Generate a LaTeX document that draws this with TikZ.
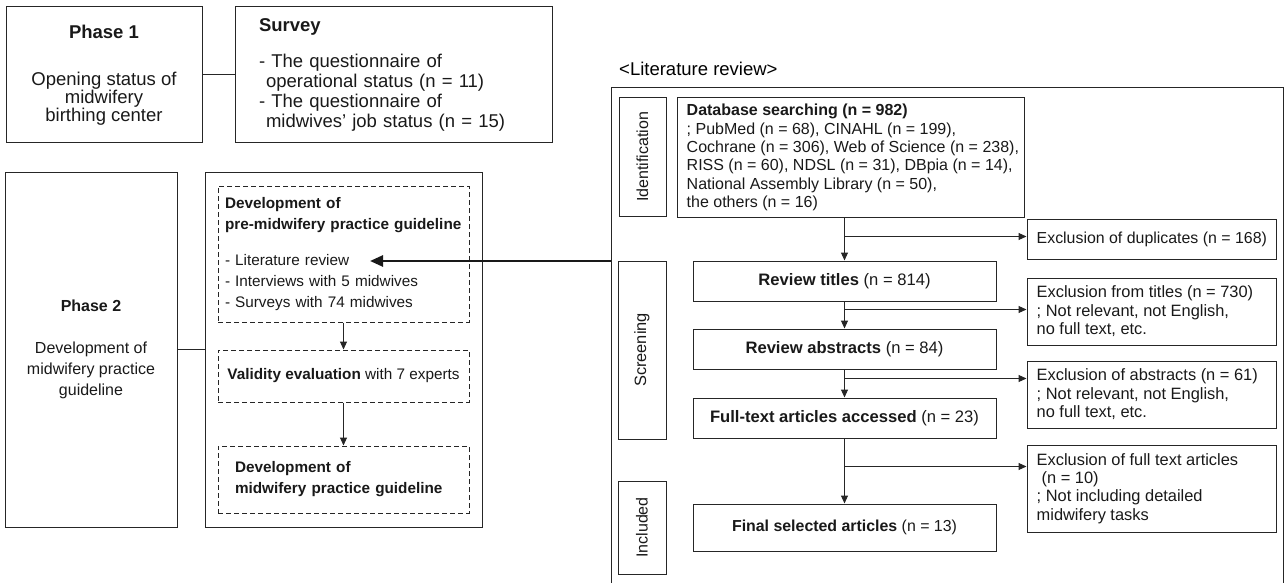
\documentclass[tikz,border=0pt]{standalone}
\usepackage{fontspec}
\setmainfont{Liberation Sans}
\usepackage{tikz}
\usetikzlibrary{arrows.meta,calc,positioning}

\tikzset{
  box/.style={draw=black!85, line width=1pt, inner sep=0pt, text=black!90},
  dbox/.style={box, dash pattern=on 5pt off 3pt},
  conn/.style={draw=black!85, line width=1pt},
  txt/.style={inner sep=0pt, align=left, text=black!90},
  big/.style={font=\fontsize{18.5}{20}\selectfont},
  mid/.style={font=\fontsize{15.3}{21}\selectfont},
  lit/.style={font=\fontsize{16.4}{18.4}\selectfont},
  stage/.style={font=\fontsize{16.6}{18.4}\selectfont},
}

\begin{document}
\begin{tikzpicture}[x=1pt, y=-1pt, >={Triangle[length=8pt,width=7pt]}]
    \useasboundingbox (0,0) rectangle (1285,583);

    % phase 1
    \node[box, align=center, font=\fontsize{18.5}{18}\selectfont, minimum width=196pt, minimum height=136pt] (pone) at (104,75)
        {\textbf{Phase 1}\\[29pt]Opening status of\\midwifery\\birthing center};
    \node[box, big, align=left, text width=269pt, inner xsep=24pt, minimum height=136pt] (survey) at (393.5,75)
        {\textbf{Survey}\\[16pt]- The questionnaire of\\\hspace*{7pt}operational status (n = 11)\\- The questionnaire of\\\hspace*{7pt}midwives’ job status (n = 15)};
    \draw[conn] (pone) -- (survey);

    % phase 2
    \node[box, align=center, font=\fontsize{16}{21}\selectfont, minimum width=172pt, minimum height=355pt] (ptwo) at (91,349.5)
        {\textbf{Phase 2}\\[21pt]Development of\\midwifery practice\\guideline};
    \node[box, minimum width=277pt, minimum height=355pt] (devbox) at (343.5,349.5) {};
    \draw[conn] (ptwo) -- (devbox);

    \node[dbox, mid, align=left, text width=237pt, inner xsep=7pt, minimum height=136pt] (predev) at (343.5,254)
        {\textbf{Development of}\\\textbf{pre-midwifery practice guideline}\\[15pt]- Literature review\\- Interviews with 5 midwives\\- Surveys with 74 midwives};
    \node[dbox, mid, minimum width=251pt, minimum height=52pt] (valid) at (343.5,376)
        {\textbf{Validity evaluation} with 7 experts};
    \node[dbox, mid, align=left, text width=217pt, inner xsep=17pt, minimum height=67pt] (guide) at (343.5,479.5)
        {\textbf{Development of}\\\textbf{midwifery practice guideline}};
    \draw[conn, ->] (predev) -- (valid);
    \draw[conn, ->] (valid) -- (guide);

    % literature review
    \node[big, anchor=base west, inner sep=0pt] (littitle) at (619,76) {\textless Literature review\textgreater};
    \node[box, minimum width=672pt, minimum height=497pt] (litbox) at (947,336.5) {};

    \node[box, font=\fontsize{16}{18}\selectfont, rotate=90, minimum width=118pt, minimum height=47pt] (ident) at (642.5,157) {Identification};
    \node[box, font=\fontsize{16.4}{18}\selectfont, rotate=90, minimum width=178pt, minimum height=48pt] (screen) at (642,350) {Screening};
    \node[box, font=\fontsize{16}{18}\selectfont, rotate=90, minimum width=93pt, minimum height=48pt] (incl) at (642,527.5) {Included};

    \node[box, minimum width=347pt, minimum height=119pt] (dbase) at (850.5,157.5) {};
    \node[txt, font=\fontsize{16}{18.4}\selectfont, right=10pt of dbase.west] (dbtext)
        {\textbf{Database searching (n = 982)}\\; PubMed (n = 68), CINAHL (n = 199),\\Cochrane (n = 306), Web of Science (n = 238),\\RISS (n = 60), NDSL (n = 31), DBpia (n = 14),\\National Assembly Library (n = 50),\\the others (n = 16)};

    \node[box, stage, minimum width=303pt, minimum height=40pt] (titles) at (844.5,281) {\textbf{Review titles} (n = 814)};
    \node[box, stage, minimum width=303pt, minimum height=40pt] (abstr) at (844.5,349) {\textbf{Review abstracts} (n = 84)};
    \node[box, stage, minimum width=303pt, minimum height=40pt] (fulltext) at (844.5,418) {\textbf{Full-text articles accessed} (n = 23)};
    \node[box, font=\fontsize{15.9}{18}\selectfont, minimum width=303pt, minimum height=47pt] (final) at (844.5,527.5) {\textbf{Final selected articles} (n = 13)};

    \node[box, minimum width=249pt, minimum height=40pt] (dup) at (1151.5,239) {};
    \node[txt, font=\fontsize{15.9}{18.4}\selectfont, right=10pt of dup.west] (duptext) {Exclusion of duplicates (n = 168)};
    \node[box, minimum width=249pt, minimum height=67pt] (extitles) at (1151.5,311.5) {};
    \node[txt, lit, right=10pt of extitles.west] (extitlestext)
        {Exclusion from titles (n = 730)\\; Not relevant, not English,\\no full text, etc.};
    \node[box, minimum width=249pt, minimum height=67pt] (exabs) at (1151.5,394.5) {};
    \node[txt, lit, right=10pt of exabs.west] (exabstext)
        {Exclusion of abstracts (n = 61)\\; Not relevant, not English,\\no full text, etc.};
    \node[box, minimum width=249pt, minimum height=87pt] (exfull) at (1151.5,488.5) {};
    \node[txt, lit, right=10pt of exfull.west] (exfulltext)
        {Exclusion of full text articles\\\hspace*{5pt}(n = 10)\\; Not including detailed\\midwifery tasks};

    \coordinate (bone) at ($(titles.north |- dbase.south)+(0,19)$);
    \coordinate (btwo) at ($(titles.south)+(0,8)$);
    \coordinate (bthree) at ($(abstr.south)+(0,9)$);
    \coordinate (bfour) at ($(fulltext.south)+(0,28)$);

    \draw[conn, ->] (titles.north |- dbase.south) -- (titles.north);
    \draw[conn, ->] (bone) -- (bone -| dup.west);
    \draw[conn, ->] (titles) -- (abstr);
    \draw[conn, ->] (btwo) -- (btwo -| extitles.west);
    \draw[conn, ->] (abstr) -- (fulltext);
    \draw[conn, ->] (bthree) -- (bthree -| exabs.west);
    \draw[conn, ->] (fulltext) -- (final);
    \draw[conn, ->] (bfour) -- (bfour -| exfull.west);

    % literature review feeds phase 2
    \coordinate (litend) at (370,261);
    \draw[line width=2.6pt, draw=black!90, -{Triangle[length=13pt,width=11pt]}] (litbox.west |- litend) -- (litend);
\end{tikzpicture}
\end{document}
